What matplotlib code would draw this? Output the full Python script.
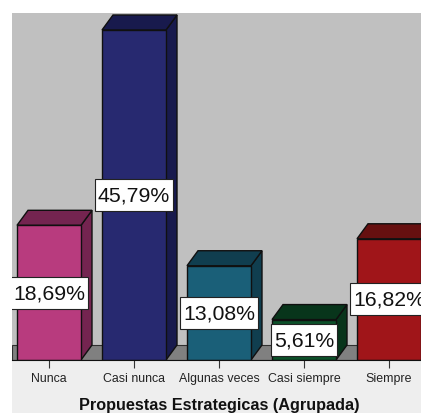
#!/usr/bin/env python3
"""3D-look bar chart of Propuestas Estrategicas (Agrupada)."""

import matplotlib

matplotlib.use("Agg")
import matplotlib.pyplot as plt
from matplotlib.patches import Polygon, Rectangle

plt.rcParams["font.family"] = ["Liberation Sans", "DejaVu Sans"]

categories = ["Nunca", "Casi nunca", "Algunas veces", "Casi siempre", "Siempre"]
values = [18.69, 45.79, 13.08, 5.61, 16.82]
front_colors = ["#B83B7E", "#272970", "#1A5F78", "#0C5029", "#A01519"]
side_colors = ["#742450", "#181A4D", "#103E4F", "#08351B", "#661010"]
xlabel = "Propuestas Estrategicas (Agrupada)"

W, H = 421, 414
PX_X = 85  # pixels per category
PX_Y = 7.207  # pixels per percent
BAR_W = 64 / PX_X
DX = 11 / PX_X
DY = 15 / PX_Y

fig = plt.figure(figsize=(W / 100, H / 100), dpi=100, facecolor="white")
fig.add_artist(Rectangle((12 / W, 0), 409 / W, 53 / H, transform=fig.transFigure,
                         facecolor="#EEEEEE", edgecolor="none", zorder=-1))
ax = fig.add_axes([12 / W, 53 / H, 409 / W, 347 / H], facecolor="#C0C0C0")
ax.set_xlim(-37 / PX_X, 372 / PX_X)
ax.set_ylim(0, 347 / PX_Y)

# floor of the 3D box
x0, x1 = ax.get_xlim()
ax.add_patch(Polygon([(x0, 0), (x0, DY), (x1, DY), (x1, 0)], closed=True,
                     facecolor="#808080", edgecolor="#303030", linewidth=0.8, zorder=1))

renderer = fig.canvas.get_renderer()
for i, (val, front, side) in enumerate(zip(values, front_colors, side_colors)):
    left, right = i - BAR_W / 2, i + BAR_W / 2
    ax.bar(i, val, width=BAR_W, color=front, edgecolor="#101010", linewidth=1.0, zorder=3)
    ax.add_patch(Polygon([(right, 0), (right + DX, DY), (right + DX, val + DY), (right, val)],
                         closed=True, facecolor=side, edgecolor="#101010", linewidth=1.0, zorder=2))
    ax.add_patch(Polygon([(left, val), (left + DX, val + DY), (right + DX, val + DY), (right, val)],
                         closed=True, facecolor=side, edgecolor="#101010", linewidth=1.0, zorder=2))
    label = ax.text(i, val / 2, f"{val:.2f}%".replace(".", ","), ha="center", va="center",
                    fontsize=15.3, color="#111111", clip_on=True, zorder=5)
    # label box sized from the text, taller than a plain bbox would give
    box_w = (label.get_window_extent(renderer).width + 6) / PX_X
    box_h = 32 / PX_Y
    ax.add_patch(Rectangle((i - box_w / 2, val / 2 - box_h / 2), box_w, box_h, facecolor="white",
                           edgecolor="#222222", linewidth=0.8, zorder=4))

for name in ("top", "left", "right"):
    ax.spines[name].set_visible(False)
ax.spines["bottom"].set_color("#101010")
ax.spines["bottom"].set_zorder(6)
ax.set_yticks([])
ax.set_xticks(range(len(categories)))
ax.set_xticklabels(categories, fontsize=8.9, color="#222222")
ax.tick_params(axis="x", length=6, width=0.8, color="#333333", pad=3)
ax.set_xlabel(xlabel, fontsize=11.7, fontweight="bold", color="#111111", x=207 / 409, labelpad=9)

fig.savefig("out.png", dpi=100)
